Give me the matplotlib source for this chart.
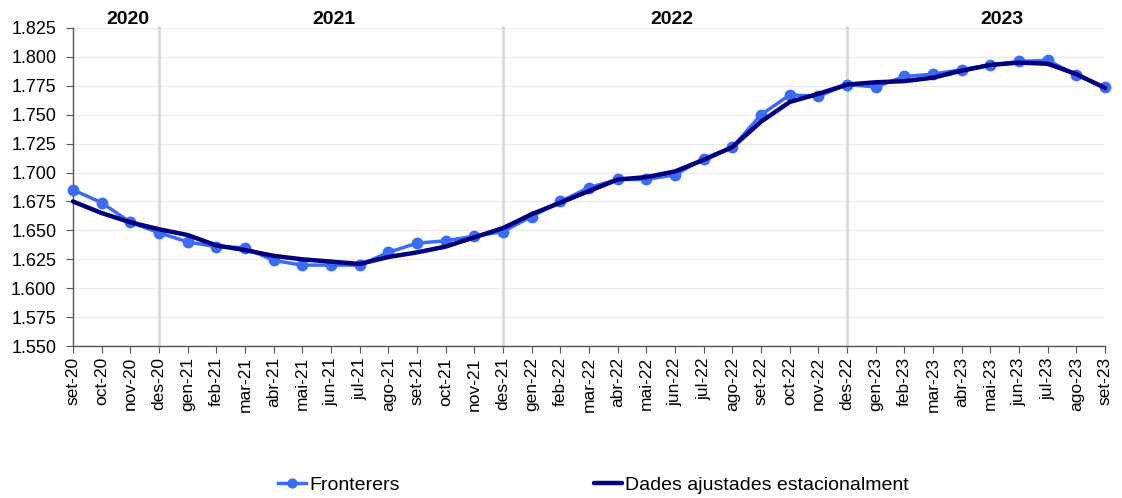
import matplotlib
matplotlib.use("Agg")
import matplotlib.pyplot as plt
import numpy as np

months = ["set-20", "oct-20", "nov-20", "des-20",
          "gen-21", "feb-21", "mar-21", "abr-21", "mai-21", "jun-21", "jul-21", "ago-21", "set-21", "oct-21", "nov-21", "des-21",
          "gen-22", "feb-22", "mar-22", "abr-22", "mai-22", "jun-22", "jul-22", "ago-22", "set-22", "oct-22", "nov-22", "des-22",
          "gen-23", "feb-23", "mar-23", "abr-23", "mai-23", "jun-23", "jul-23", "ago-23", "set-23"]

fronterers = [1.685, 1.674, 1.657, 1.648,
              1.640, 1.636, 1.635, 1.624, 1.620, 1.620, 1.620, 1.631, 1.639, 1.641, 1.645, 1.649,
              1.662, 1.675, 1.687, 1.694, 1.694, 1.698, 1.712, 1.722, 1.750, 1.767, 1.766, 1.776,
              1.774, 1.783, 1.785, 1.789, 1.793, 1.796, 1.797, 1.784, 1.774]

ajustades = [1.675, 1.665, 1.657, 1.651,
             1.646, 1.637, 1.633, 1.628, 1.625, 1.623, 1.621, 1.627, 1.631, 1.636, 1.644, 1.652,
             1.664, 1.674, 1.684, 1.694, 1.696, 1.701, 1.711, 1.722, 1.744, 1.761, 1.768, 1.776,
             1.778, 1.779, 1.782, 1.788, 1.793, 1.795, 1.794, 1.785, 1.773]

year_labels = ["2020", "2021", "2022", "2023"]
year_label_pos = [1.9, 9.1, 20.9, 32.4]
year_breaks = ["des-20", "des-21", "des-22"]

plt.rcParams['font.family'] = ['Liberation Sans', 'DejaVu Sans']

fig = plt.figure(figsize=(11.22, 4.98), dpi=100)
ax = fig.add_axes([0.065, 0.305, 0.92, 0.639])

x = np.arange(len(months))
ax.set_xlim(0, len(months) - 1)
ax.set_ylim(1.550, 1.825)
yt = np.arange(1.550, 1.8251, 0.025)
ax.set_yticks(yt)
ax.set_yticklabels([f"{v:.3f}" for v in yt], fontsize=13)
ax.set_xticks(x)
ax.set_xticklabels(months, rotation=90, fontsize=12.5)

ax.grid(axis='y', color='#ececec', linewidth=1.0)
ax.set_axisbelow(True)
for m in year_breaks:
    ax.axvline(months.index(m), color='#d9d9d9', linewidth=2, zorder=1, clip_on=False, ymax=1.003)

for s in ['top', 'right']:
    ax.spines[s].set_visible(False)
for s in ['left', 'bottom']:
    ax.spines[s].set_color('#555555')
    ax.spines[s].set_linewidth(1.0)
ax.tick_params(axis='both', direction='out', length=5, color='#555555')
ax.tick_params(axis='x', pad=3)
ax.tick_params(axis='y', pad=7)

l1, = ax.plot(x, fronterers, color='#3a6cf6', linewidth=2.5, marker='o', markersize=7.5, zorder=3,
              label='Fronterers', clip_on=False)
l2, = ax.plot(x, ajustades, color='#00007f', linewidth=3.2, zorder=4,
              label='Dades ajustades estacionalment', clip_on=False, solid_capstyle='round')

for lab, pos in zip(year_labels, year_label_pos):
    ax.text(pos, 1.0, lab, transform=ax.get_xaxis_transform(), ha='center', va='bottom',
            fontsize=14, fontweight='bold')

leg = fig.legend(handles=[l1, l2], loc='center', bbox_to_anchor=(0.529, 0.026), ncol=2, frameon=False,
                 fontsize=14, handlelength=1.45, handletextpad=0.15, columnspacing=10.0, markerscale=0.85)

fig.savefig("out.png", dpi=100)
